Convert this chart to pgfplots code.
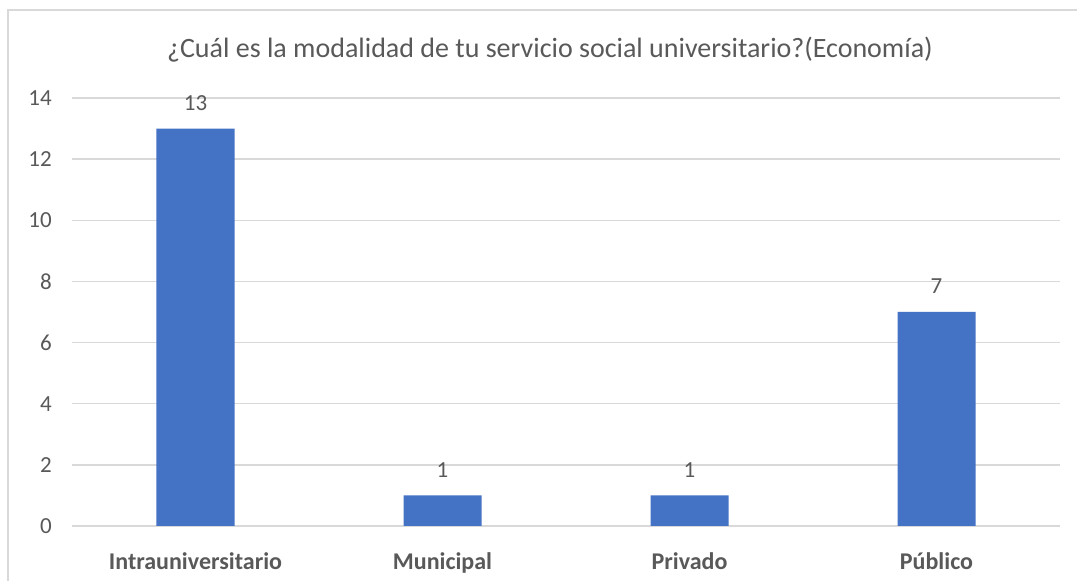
\documentclass[border=0pt]{standalone}
\usepackage{pgfplots}
\pgfplotsset{compat=1.18}
\usepackage{fontspec}
\setmainfont{Carlito}
\definecolor{txt}{HTML}{595959}
\definecolor{grd}{HTML}{D9D9D9}
\definecolor{bar}{HTML}{4472C4}
\begin{document}
\begin{tikzpicture}
\useasboundingbox (0,0) rectangle (1077pt,581pt);
\fill[white] (0,0) rectangle (1077pt,581pt);
\draw[grd, line width=1.5pt] (8pt,0) -- (8pt,571pt) -- (1077pt,571pt);
\node[anchor=base, text=txt, font=\fontsize{28}{33}\selectfont] at (550pt,523pt) {¿Cuál es la modalidad de tu servicio social universitario?(Economía)};
\begin{axis}[
  at={(72pt,55pt)}, anchor=south west,
  scale only axis, width=988pt, height=428pt,
  xmin=-0.5, xmax=3.5, ymin=0, ymax=14,
  ybar, bar width=78pt,
  axis line style={draw=none},
  tick style={draw=none},
  ytick={0,2,...,14},
  ymajorgrids, grid style={grd, line width=1.5pt},
  xtick={0,1,2,3},
  xticklabels={Intrauniversitario, Municipal, Privado, Público},
  xticklabel style={anchor=base, yshift=-39pt, text=txt, font=\fontsize{24}{28}\selectfont\bfseries},
  yticklabel style={anchor=east, inner sep=0pt, xshift=-20pt, text=txt, font=\fontsize{23}{27}\selectfont},
  /pgf/number format/assume math mode=true,
  nodes near coords,
  every node near coord/.append style={anchor=base, yshift=18pt, text=txt, font=\fontsize{23}{27}\selectfont},
  clip=false,
]
\addplot[fill=bar, draw=none] coordinates {(0,13) (1,1) (2,1) (3,7)};
\end{axis}
\end{tikzpicture}
\end{document}
